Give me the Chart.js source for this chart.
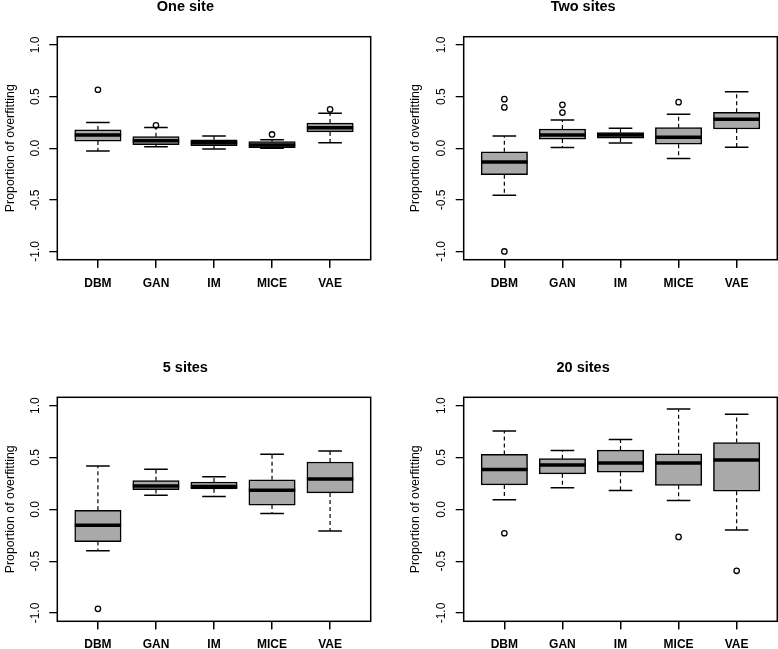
<!DOCTYPE html>
<html><head><meta charset="utf-8">
<script src="https://cdn.jsdelivr.net/npm/chart.js@4"></script>
<style>
html,body{margin:0;padding:0;background:#fff;width:778px;height:649px;overflow:hidden;}
.panel{position:absolute;}
canvas{display:block;}
</style></head><body>
<div class="panel" style="left:0;top:0;"><canvas id="c0" width="389" height="325"></canvas></div>
<div class="panel" style="left:389px;top:0;"><canvas id="c1" width="389" height="325"></canvas></div>
<div class="panel" style="left:0;top:325px;"><canvas id="c2" width="389" height="324"></canvas></div>
<div class="panel" style="left:389px;top:325px;"><canvas id="c3" width="389" height="324"></canvas></div>
<script>
const categories = ['DBM', 'GAN', 'IM', 'MICE', 'VAE'];
const yTickValues = [-1, -0.5, 0, 0.5, 1];
const yTickLabels = ['-1.0', '-0.5', '0.0', '0.5', '1.0'];
const panelTitles = ['One site', 'Two sites', '5 sites', '20 sites'];
const yAxisTitle = 'Proportion of overfitting';

// One site
const oneLower   = [-0.026, 0.013, -0.007, 0.000, 0.053];
const oneQ1      = [0.069, 0.034, 0.025, 0.006, 0.158];
const oneMedian  = [0.127, 0.072, 0.053, 0.030, 0.199];
const oneQ3      = [0.177, 0.112, 0.082, 0.063, 0.243];
const oneUpper   = [0.250, 0.200, 0.117, 0.082, 0.338];
const oneOutliers = [[0.566], [0.222], [], [0.133], [0.376]];

// Two sites
const twoLower   = [-0.456, 0.006, 0.050, -0.099, 0.010];
const twoQ1      = [-0.256, 0.088, 0.098, 0.038, 0.186];
const twoMedian  = [-0.133, 0.129, 0.129, 0.107, 0.281];
const twoQ3      = [-0.035, 0.186, 0.152, 0.199, 0.348];
const twoUpper   = [0.117, 0.272, 0.193, 0.329, 0.547];
const twoOutliers = [[0.475, 0.395, -1.0], [0.420, 0.345], [], [0.446], []];

// 5 sites
const fiveLower  = [-0.399, 0.136, 0.124, -0.041, -0.209];
const fiveQ1     = [-0.311, 0.190, 0.197, 0.041, 0.158];
const fiveMedian = [-0.155, 0.225, 0.219, 0.184, 0.292];
const fiveQ3     = [-0.010, 0.276, 0.263, 0.285, 0.456];
const fiveUpper  = [0.418, 0.387, 0.314, 0.532, 0.561];
const fiveOutliers = [[-0.960], [], [], [], []];

// 20 sites
const twentyLower  = [0.092, 0.209, 0.181, 0.086, -0.200];
const twentyQ1     = [0.235, 0.342, 0.358, 0.231, 0.174];
const twentyMedian = [0.384, 0.428, 0.447, 0.447, 0.475];
const twentyQ3     = [0.529, 0.488, 0.571, 0.536, 0.643];
const twentyUpper  = [0.754, 0.567, 0.672, 0.967, 0.916];
const twentyOutliers = [[-0.231], [], [], [-0.266], [-0.593]];

const panelData = [
  [oneLower, oneQ1, oneMedian, oneQ3, oneUpper, oneOutliers],
  [twoLower, twoQ1, twoMedian, twoQ3, twoUpper, twoOutliers],
  [fiveLower, fiveQ1, fiveMedian, fiveQ3, fiveUpper, fiveOutliers],
  [twentyLower, twentyQ1, twentyMedian, twentyQ3, twentyUpper, twentyOutliers]
];

const FONT = "'Liberation Sans', Arial, Helvetica, sans-serif";
const TICK_FONT_SIZE = 12;
const mctx = document.createElement('canvas').getContext('2d');
mctx.font = TICK_FONT_SIZE + 'px ' + FONT;
const widestY = Math.max(...yTickLabels.map(t => mctx.measureText(t).width));

// layout per panel: [yAxisWidth, rightPad, titlePadTop, titlePadBottom, xAxisHeight, yTitlePad]
const layouts = [
  [57.3, 18.3, -2, 21.3, 65.3, 2.8],
  [74.7, 0.7, -2, 21.3, 65.3, 19.5],
  [57.3, 18.3, 34.6, 20.3, 27.7, 2.8],
  [74.7, 0.7, 34.6, 20.3, 27.7, 19.5]
];

// plot frame plus x-axis tick marks (positions from the x scale)
const framePlugin = {
  id: 'frame',
  afterDraw(chart) {
    const ctx = chart.ctx;
    for (let k = 0; k < 12; k++) ctx.restore();
    const a = chart.chartArea;
    const sx = chart.scales.x;
    ctx.save();
    ctx.setLineDash([]);
    ctx.globalAlpha = 1;
    ctx.globalCompositeOperation = 'source-over';
    ctx.fillStyle = '#000';
    categories.forEach((c, i) => {
      const px = sx.getPixelForValue(i + 1);
      const cx = Math.round(px - 0.65) + 0.65;
      ctx.fillRect(cx - 0.65, a.bottom, 1.3, 8);
    });
    ctx.strokeStyle = '#000';
    ctx.lineWidth = 1.5;
    ctx.strokeRect(a.left, a.top, a.right - a.left, a.bottom - a.top);
    ctx.restore();
  }
};

Chart.defaults.font.family = FONT;
Chart.defaults.color = '#000';

panelData.forEach((pd, p) => {
  const [lower, q1, median, q3, upper, outliers] = pd;
  const [yW, rightPad, tTop, tBot, xH, yTitlePad] = layouts[p];
  const xs = categories.map((c, i) => i + 1);

  const boxes = xs.map((x, i) => ({x, y: [q1[i], q3[i]]}));
  const medians = xs.map((x, i) => ({x, y: median[i]}));
  const caps = [];
  xs.forEach((x, i) => { caps.push({x, y: upper[i]}); caps.push({x, y: lower[i]}); });
  const whiskers = [];
  xs.forEach((x, i) => {
    whiskers.push({x, y: q3[i]}, {x, y: upper[i]}, {x, y: null});
    whiskers.push({x, y: q1[i]}, {x, y: lower[i]}, {x, y: null});
  });
  const outs = [];
  xs.forEach((x, i) => outliers[i].forEach(v => outs.push({x, y: v})));

  new Chart(document.getElementById('c' + p), {
    type: 'bar',
    data: {
      datasets: [
        { type: 'scatter', data: outs, pointStyle: 'circle', pointRadius: 2.7,
          pointBorderWidth: 1.3, borderColor: '#000', backgroundColor: 'rgba(0,0,0,0)' },
        { type: 'scatter', data: medians, pointStyle: 'line', pointRadius: 23.2,
          pointBorderWidth: 3.5, borderColor: '#000', backgroundColor: '#000' },
        { type: 'scatter', data: caps, pointStyle: 'line', pointRadius: 11.8,
          pointBorderWidth: 1.5, borderColor: '#000', backgroundColor: '#000' },
        { type: 'bar', data: boxes, backgroundColor: '#a9a9a9', borderColor: '#000',
          borderWidth: 1.5, borderSkipped: false, barThickness: 46.4 },
        { type: 'line', data: whiskers, borderColor: '#000', borderWidth: 1.2,
          borderDash: [4, 3], pointRadius: 0, spanGaps: false, fill: false }
      ]
    },
    options: {
      responsive: false,
      animation: false,
      events: [],
      layout: { autoPadding: false, padding: { left: 0, right: rightPad, top: 0, bottom: 0 } },
      plugins: {
        legend: { display: false },
        tooltip: { enabled: false },
        title: {
          display: true, text: panelTitles[p], color: '#000',
          font: { size: 14.5, weight: 'bold', family: FONT, lineHeight: 1.2 },
          padding: { top: tTop, bottom: tBot }
        }
      },
      scales: {
        x: {
          type: 'linear', min: 0.3, max: 5.7, offset: false,
          afterBuildTicks: s => { s.ticks = xs.map(v => ({value: v})); },
          afterFit: s => { s.height = xH; },
          grid: { display: true, offset: false, drawOnChartArea: false, drawTicks: true, tickLength: 8, color: '#000', lineWidth: 1.3 },
          border: { display: false },
          ticks: {
            padding: 8.4, color: '#000',
            font: { size: TICK_FONT_SIZE, weight: 'bold', family: FONT },
            callback: v => categories[Math.round(v) - 1],
            autoSkip: false
          }
        },
        y: {
          type: 'linear', min: -1.08, max: 1.08,
          afterBuildTicks: s => { s.ticks = yTickValues.map(v => ({value: v})); },
          afterFit: s => { s.width = yW; },
          grid: { offset: false, drawOnChartArea: false, drawTicks: true, tickLength: 8, color: '#000', lineWidth: 1.3 },
          border: { display: false },
          title: {
            display: true, text: yAxisTitle, color: '#000',
            font: { size: 12.4, family: FONT, lineHeight: 1.2 },
            padding: { top: yTitlePad, bottom: 0 }
          },
          ticks: {
            color: '#000', minRotation: 90, maxRotation: 90, crossAlign: 'center',
            padding: 14 - widestY / 2,
            font: { size: TICK_FONT_SIZE, family: FONT },
            autoSkip: false,
            callback: (v) => yTickLabels[yTickValues.indexOf(v)]
          }
        }
      }
    },
    plugins: [framePlugin]
  });
});
</script>
</body></html>
